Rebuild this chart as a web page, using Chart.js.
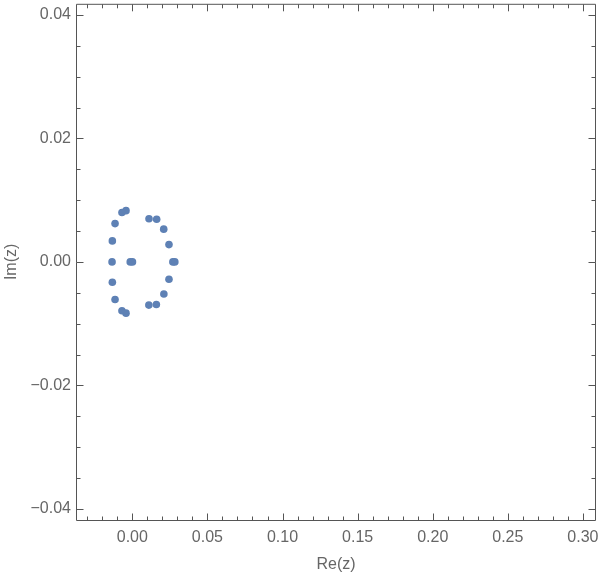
<!DOCTYPE html>
<html>
<head>
<meta charset="utf-8">
<script src="https://cdn.jsdelivr.net/npm/chart.js@4/dist/chart.umd.min.js"></script>
<style>
  body { margin: 0; background: #fff; }
  canvas { display: block; }
</style>
</head>
<body>
<canvas id="canvas" width="600" height="572"></canvas>
<script>
// roots in the complex plane
const realParts = [
  -0.0042, -0.0069, -0.0115, -0.0133, -0.0135, -0.0133, -0.0115, -0.0069, -0.0042,
  -0.0014, 0.0001,
  0.0111, 0.0162, 0.0209, 0.0244, 0.0270, 0.0283, 0.0244, 0.0210, 0.0160, 0.0110,
];
const imagParts = [
  0.0083, 0.0080, 0.0062, 0.0034, 0.0, -0.0033, -0.0061, -0.0079, -0.0083,
  0.0, 0.0,
  0.0070, 0.0069, 0.0053, 0.0028, 0.0, 0.0, -0.0028, -0.0052, -0.0069, -0.0070,
];

const xTicks = [0, 0.05, 0.1, 0.15, 0.2, 0.25, 0.3];
const xTickLabels = ["0.00", "0.05", "0.10", "0.15", "0.20", "0.25", "0.30"];
const yTicks = [-0.04, -0.02, 0, 0.02, 0.04];
const yTickLabels = ["\u22120.04", "\u22120.02", "0.00", "0.02", "0.04"];

const frameColor = "#555555";
const labelColor = "#666666";

// Mathematica style frame with inward ticks on all four sides
const framePlugin = {
  id: "frame",
  afterDraw(chart) {
    const { ctx, chartArea: a, scales } = chart;
    const xs = scales.x, ys = scales.y;
    ctx.save();
    ctx.strokeStyle = frameColor;
    ctx.lineWidth = 1;
    const L = a.left + 0.5, R = a.right - 0.5, T = a.top + 0.5, B = a.bottom + 0.5;
    ctx.beginPath();
    ctx.rect(L, T, R - L, B - T);
    ctx.stroke();

    ctx.beginPath();
    for (let i = -4; i <= 31; i++) {
      const v = i / 100;
      if (v < xs.min || v > xs.max) continue;
      const len = i % 5 === 0 ? 7 : 4;
      const px = Math.round(xs.getPixelForValue(v)) + 0.5;
      ctx.moveTo(px, B); ctx.lineTo(px, B - len);
      ctx.moveTo(px, T); ctx.lineTo(px, T + len);
    }
    for (let i = -8; i <= 8; i++) {
      const v = i * 0.005;
      if (v < ys.min || v > ys.max) continue;
      const len = i % 4 === 0 ? 7 : 4;
      const py = Math.round(ys.getPixelForValue(v)) + 0.5;
      ctx.moveTo(L, py); ctx.lineTo(L + len, py);
      ctx.moveTo(R, py); ctx.lineTo(R - len, py);
    }
    ctx.stroke();
    ctx.restore();
  },
};

const tickFont = { family: "'Liberation Sans', Arial, sans-serif", size: 16 };

const config = {
  type: "scatter",
  data: {
    datasets: [
      {
        label: "roots",
        data: realParts.map((re, i) => ({ x: re, y: imagParts[i] })),
        backgroundColor: "#5e81b5",
        borderColor: "#5e81b5",
        borderWidth: 0,
        pointRadius: 3.8,
        pointHoverRadius: 3.8,
      },
    ],
  },
  options: {
    responsive: false,
    animation: false,
    events: [],
    layout: { padding: { left: 0, right: 4, top: 1, bottom: 0 } },
    plugins: {
      legend: { display: false },
      tooltip: { enabled: false },
    },
    scales: {
      x: {
        type: "linear",
        min: -0.0375,
        max: 0.3087,
        afterBuildTicks(scale) {
          scale.ticks = xTicks.map((v) => ({ value: v }));
        },
        afterFit(scale) {
          scale.height = 52;
          scale.paddingLeft = 0;
          scale.paddingRight = 0;
        },
        grid: { display: false, drawTicks: false },
        border: { display: false },
        ticks: {
          color: labelColor,
          font: tickFont,
          padding: 8,
          maxRotation: 0,
          autoSkip: false,
          callback: (v, i) => xTickLabels[i],
        },
        title: {
          display: true,
          text: "Re(z)",
          color: labelColor,
          font: { family: "'Liberation Sans', Arial, sans-serif", size: 16 },
          padding: { top: 0, bottom: -2 },
        },
      },
      y: {
        type: "linear",
        min: -0.0418,
        max: 0.0418,
        afterBuildTicks(scale) {
          scale.ticks = yTicks.map((v) => ({ value: v }));
        },
        afterFit(scale) {
          scale.width = 76;
          scale.paddingTop = 0;
          scale.paddingBottom = 0;
        },
        grid: { display: false, drawTicks: false },
        border: { display: false },
        ticks: {
          color: labelColor,
          font: tickFont,
          padding: 5,
          autoSkip: false,
          callback: (v, i) => yTickLabels[i],
        },
        title: {
          display: true,
          text: "Im(z)",
          color: labelColor,
          font: { family: "'Liberation Sans', Arial, sans-serif", size: 16 },
          padding: { top: 2, bottom: 0 },
        },
      },
    },
  },
  plugins: [framePlugin],
};

const myChart = new Chart(document.getElementById("canvas"), config);
</script>
</body>
</html>
